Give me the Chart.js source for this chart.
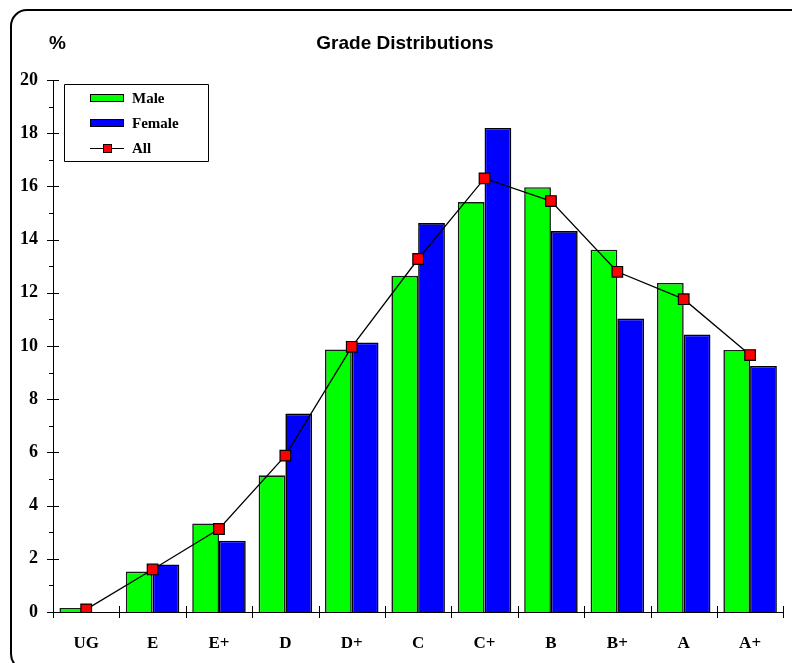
<!DOCTYPE html>
<html>
<head>
<meta charset="utf-8">
<script src="https://cdn.jsdelivr.net/npm/chart.js@4/dist/chart.umd.min.js"></script>
<style>
  html, body { margin: 0; padding: 0; background: #fff; }
  #wrap { width: 792px; height: 663px; }
</style>
</head>
<body>
<div id="wrap"><canvas id="gradeChart" width="792" height="663"></canvas></div>
<script>
// Data (percent of students per grade)
const grades = ["UG", "E", "E+", "D", "D+", "C", "C+", "B", "B+", "A", "A+"];
const male = [0.15, 1.52, 3.33, 5.14, 9.87, 12.64, 15.41, 15.97, 13.62, 12.37, 9.85];
const female = [0, 1.79, 2.68, 7.46, 10.13, 14.62, 18.2, 14.32, 11.03, 10.43, 9.25];
const all = [0.1, 1.6, 3.12, 5.88, 9.97, 13.27, 16.3, 15.45, 12.79, 11.76, 9.66];
const seriesNames = ["Male", "Female", "All"];

const yMin = 0;
const yMax = 20;
const yStep = 2;

const serif = "'Liberation Serif', 'Times New Roman', serif";
const sans = "'Liberation Sans', Arial, sans-serif";

/* =========================
   DRAWING HELPERS
========================= */

const decorPlugin = {
  id: "decor",
  beforeDraw(chart) {
    const ctx = chart.ctx;
    ctx.save();
    ctx.fillStyle = "#fff";
    ctx.fillRect(0, 0, chart.width, chart.height);
    // rounded outer frame (runs off the right and bottom edge)
    ctx.strokeStyle = "#000";
    ctx.lineWidth = 2;
    ctx.beginPath();
    ctx.roundRect(11, 10, 800, 660, 16);
    ctx.stroke();

    // title and unit
    ctx.fillStyle = "#000";
    ctx.font = "bold 19px " + sans;
    ctx.textBaseline = "middle";
    ctx.textAlign = "center";
    ctx.fillText("Grade Distributions", 405, 44);
    ctx.textAlign = "left";
    ctx.fillText("%", 49, 44);
    ctx.restore();
  },
  afterDraw(chart) {
    const ctx = chart.ctx;
    const x = chart.scales.x;
    const y = chart.scales.y;
    ctx.save();
    ctx.strokeStyle = "#000";
    ctx.lineWidth = 1;

    // axis lines
    ctx.beginPath();
    ctx.moveTo(Math.round(x.left) + 0.5, y.top);
    ctx.lineTo(Math.round(x.left) + 0.5, y.bottom);
    ctx.moveTo(x.left, Math.round(y.bottom) + 0.5);
    ctx.lineTo(x.right, Math.round(y.bottom) + 0.5);

    // y ticks: major crossing, minor outside only
    for (let v = yMin; v <= yMax; v += yStep / 2) {
      const py = Math.round(y.getPixelForValue(v)) + 0.5;
      const major = v % yStep === 0;
      ctx.moveTo(x.left - (major ? 6 : 4), py);
      ctx.lineTo(x.left + (major ? 6 : 0), py);
    }
    // x ticks at category boundaries
    const cw = (x.right - x.left) / grades.length;
    for (let i = 0; i <= grades.length; i++) {
      const px = Math.round(x.left + i * cw) + 0.5;
      ctx.moveTo(px, y.bottom - 6);
      ctx.lineTo(px, y.bottom + 6);
    }
    ctx.stroke();

    // legend box
    ctx.beginPath();
    ctx.rect(64.5, 84.5, 144, 77);
    ctx.stroke();
    const rows = [98, 123, 148];
    const fills = ["#00ff00", "#0000ff"];
    ctx.font = "bold 15px " + serif;
    ctx.textBaseline = "middle";
    ctx.textAlign = "left";
    for (let i = 0; i < 3; i++) {
      const cy = rows[i];
      if (i < 2) {
        ctx.fillStyle = fills[i];
        ctx.fillRect(90, cy - 4, 34, 8);
        ctx.strokeRect(90.5, cy - 3.5, 33, 7);
      } else {
        ctx.beginPath();
        ctx.moveTo(90, cy + 0.5);
        ctx.lineTo(124, cy + 0.5);
        ctx.stroke();
        ctx.fillStyle = "#ff0000";
        ctx.fillRect(103, cy - 4, 9, 9);
        ctx.strokeRect(103.5, cy - 3.5, 8, 8);
      }
      ctx.fillStyle = "#000";
      ctx.fillText(seriesNames[i], 132, cy + 1);
    }
    ctx.restore();
  },
};

/* =========================
   CHART
========================= */

const ctx = document.getElementById("gradeChart").getContext("2d");

new Chart(ctx, {
  type: "bar",
  data: {
    labels: grades,
    datasets: [
      {
        type: "line",
        label: seriesNames[2],
        data: all,
        borderColor: "#000",
        borderWidth: 1.3,
        backgroundColor: "#ff0000",
        pointBackgroundColor: "#ff0000",
        pointBorderColor: "#000",
        pointBorderWidth: 1.2,
        pointStyle: "rect",
        pointRadius: 7.5,
        tension: 0,
        order: 0,
      },
      {
        label: seriesNames[0],
        data: male,
        backgroundColor: "#00ff00",
        borderColor: "#1a1a1a",
        borderWidth: 1.6,
        categoryPercentage: 0.806,
        barPercentage: 1.0,
        order: 1,
      },
      {
        label: seriesNames[1],
        data: female,
        backgroundColor: "#0000ff",
        borderColor: "#000",
        borderWidth: 1.6,
        categoryPercentage: 0.806,
        barPercentage: 1.0,
        order: 1,
      },
    ],
  },
  options: {
    responsive: false,
    animation: false,
    devicePixelRatio: 1,
    layout: {
      padding: { top: 80, left: 0, right: 2, bottom: 0 },
    },
    plugins: {
      legend: { display: false },
      title: { display: false },
      tooltip: { enabled: false },
    },
    scales: {
      x: {
        grid: { display: false },
        border: { display: false },
        ticks: {
          color: "#000",
          padding: 13,
          font: { family: serif, size: 17, weight: "bold" },
        },
        afterFit(scale) {
          scale.height = 51;
        },
      },
      y: {
        min: yMin,
        max: yMax,
        grid: { display: false },
        border: { display: false },
        ticks: {
          stepSize: yStep,
          color: "#000",
          padding: 7,
          font: { family: serif, size: 18, weight: "bold" },
        },
        afterFit(scale) {
          scale.width = 53;
        },
      },
    },
  },
  plugins: [decorPlugin],
});
</script>
</body>
</html>
